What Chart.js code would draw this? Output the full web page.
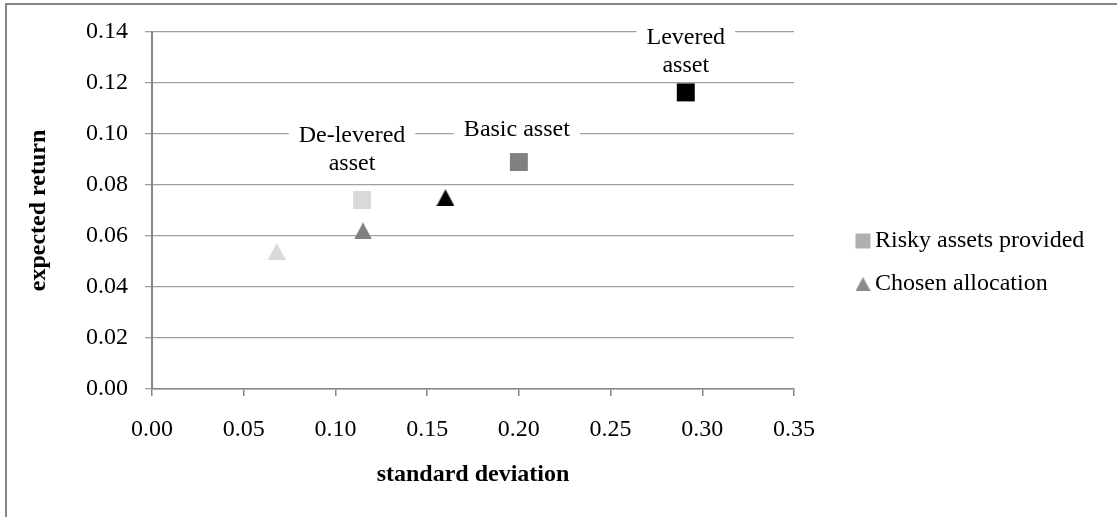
<!DOCTYPE html>
<html>
<head>
<meta charset="utf-8">
<script src="https://cdn.jsdelivr.net/npm/chart.js@4/dist/chart.umd.min.js"></script>
<style>
  html, body { margin: 0; padding: 0; background: #ffffff; }
  #wrap { width: 1117px; height: 517px; }
</style>
</head>
<body>
<div id="wrap"><canvas id="c" width="1117" height="517"></canvas></div>
<script>
// Series names
const seriesNames = ['Risky assets provided', 'Chosen allocation'];

// Risky assets: levered, basic, de-levered
const assetNames = [['Levered', 'asset'], ['Basic asset'], ['De-levered', 'asset']];
const assetSd = [0.291, 0.200, 0.1145];
const assetReturn = [0.1163, 0.089, 0.0741];

// Chosen allocation for each asset
const allocSd = [0.160, 0.115, 0.068];
const allocReturn = [0.075, 0.062, 0.054];

// Axis tick labels
const xTickLabels = ['0.00', '0.05', '0.10', '0.15', '0.20', '0.25', '0.30', '0.35'];
const yTickLabels = ['0.00', '0.02', '0.04', '0.06', '0.08', '0.10', '0.12', '0.14'];

// Marker shades, darkest for the levered asset
const shades = ['#000000', '#808080', '#d9d9d9'];
const legendShades = ['#b0b0b0', '#8a8a8a'];

const FONT = 'Liberation Serif, Times New Roman, serif';
const FONT_SIZE = 24;
const AXIS_GREY = '#868686';
const GRID_GREY = '#a0a0a0';

// Triangle marker centred on its bounding box
function triangleMarker(color, w, h) {
  const c = document.createElement('canvas');
  c.width = w;
  c.height = h;
  const g = c.getContext('2d');
  g.fillStyle = color;
  g.beginPath();
  g.moveTo(w / 2, 0);
  g.lineTo(w, h);
  g.lineTo(0, h);
  g.closePath();
  g.fill();
  return c;
}
const triangleMarkers = shades.map(s => triangleMarker(s, 18, 17));
const legendTriangle = triangleMarker(legendShades[1], 15, 14);

// Outer frame round the chart
const framePlugin = {
  id: 'frame',
  beforeDraw(chart) {
    const ctx = chart.ctx;
    ctx.save();
    ctx.fillStyle = '#ffffff';
    ctx.fillRect(0, 0, chart.width, chart.height);
    ctx.strokeStyle = AXIS_GREY;
    ctx.lineWidth = 2;
    ctx.strokeRect(6, 4, chart.width + 20, chart.height + 20);
    ctx.restore();
  }
};

// Names of the risky assets, set on white boxes above their markers
const labelOffsets = [{ dx: 0, dy: -41 }, { dx: -2, dy: -32 }, { dx: -10, dy: -50 }];
const assetLabelPlugin = {
  id: 'assetLabels',
  afterDatasetsDraw(chart) {
    const ctx = chart.ctx;
    const meta = chart.getDatasetMeta(0);
    const lineH = 28;
    ctx.save();
    ctx.font = FONT_SIZE + 'px ' + FONT;
    ctx.textAlign = 'center';
    ctx.textBaseline = 'middle';
    meta.data.forEach((pt, i) => {
      const lines = assetNames[i];
      const cx = pt.x + labelOffsets[i].dx;
      const cy = pt.y + labelOffsets[i].dy;
      const w = Math.max(...lines.map(l => ctx.measureText(l).width)) + 20;
      const h = lines.length * lineH;
      ctx.fillStyle = '#ffffff';
      ctx.fillRect(cx - w / 2, cy - h / 2 - 2, w, h);
      ctx.fillStyle = '#000000';
      lines.forEach((l, k) => {
        ctx.fillText(l, cx, cy - h / 2 + lineH / 2 + k * lineH);
      });
    });
    ctx.restore();
  }
};

// Legend at the right of the plot
const legendPlugin = {
  id: 'sideLegend',
  afterDraw(chart) {
    const ctx = chart.ctx;
    const area = chart.chartArea;
    const x0 = area.right + 69;
    const rows = [area.top + 209, area.top + 252];
    ctx.save();
    ctx.font = FONT_SIZE + 'px ' + FONT;
    ctx.textAlign = 'left';
    ctx.textBaseline = 'middle';
    seriesNames.forEach((name, i) => {
      if (i === 0) {
        ctx.fillStyle = legendShades[0];
        Chart.helpers.drawPoint(ctx, { pointStyle: 'rect', radius: 10.6, rotation: 0, borderWidth: 0 }, x0, rows[i]);
      } else {
        Chart.helpers.drawPoint(ctx, { pointStyle: legendTriangle, radius: 7, rotation: 0, borderWidth: 0 }, x0, rows[i]);
      }
      ctx.fillStyle = '#000000';
      ctx.fillText(name, x0 + 12, rows[i]);
    });
    ctx.restore();
  }
};

new Chart(document.getElementById('c'), {
  type: 'scatter',
  data: {
    datasets: [
      {
        label: seriesNames[0],
        data: assetSd.map((x, i) => ({ x: x, y: assetReturn[i] })),
        pointStyle: 'rect',
        pointRadius: 12.7,
        pointHoverRadius: 12.7,
        backgroundColor: shades,
        borderColor: shades,
        borderWidth: 0
      },
      {
        label: seriesNames[1],
        data: allocSd.map((x, i) => ({ x: x, y: allocReturn[i] })),
        pointStyle: triangleMarkers,
        pointRadius: 9,
        pointHoverRadius: 9,
        backgroundColor: shades,
        borderColor: shades,
        borderWidth: 0
      }
    ]
  },
  options: {
    responsive: false,
    animation: false,
    devicePixelRatio: 1,
    layout: { padding: { left: 8, top: 32, right: 323, bottom: 0 } },
    plugins: {
      legend: { display: false },
      tooltip: { enabled: false }
    },
    scales: {
      x: {
        type: 'linear',
        min: 0,
        max: 0.35,
        ticks: {
          stepSize: 0.05,
          padding: 19,
          color: '#000000',
          font: { family: FONT, size: FONT_SIZE },
          callback: (v, i) => xTickLabels[i]
        },
        grid: { drawOnChartArea: false, drawTicks: true, tickLength: 7, color: AXIS_GREY, lineWidth: 1.5 },
        border: { display: true, color: AXIS_GREY, width: 1.5 },
        title: {
          display: true,
          text: 'standard deviation',
          color: '#000000',
          font: { family: FONT, size: FONT_SIZE, weight: 'bold' },
          padding: { top: 0, bottom: 28 }
        },
        afterFit(scale) { scale.height = 128; }
      },
      y: {
        type: 'linear',
        min: 0,
        max: 0.14,
        ticks: {
          stepSize: 0.02,
          padding: 17,
          color: '#000000',
          font: { family: FONT, size: FONT_SIZE },
          callback: (v, i) => yTickLabels[i]
        },
        grid: { drawOnChartArea: true, drawTicks: true, tickLength: 7, color: GRID_GREY, lineWidth: 1.3 },
        border: { display: true, color: AXIS_GREY, width: 2 },
        title: {
          display: true,
          text: 'expected return',
          color: '#000000',
          font: { family: FONT, size: FONT_SIZE, weight: 'bold' },
          padding: { top: 16, bottom: 0 }
        },
        afterFit(scale) { scale.width = 144; }
      }
    }
  },
  plugins: [framePlugin, assetLabelPlugin, legendPlugin]
});
</script>
</body>
</html>
